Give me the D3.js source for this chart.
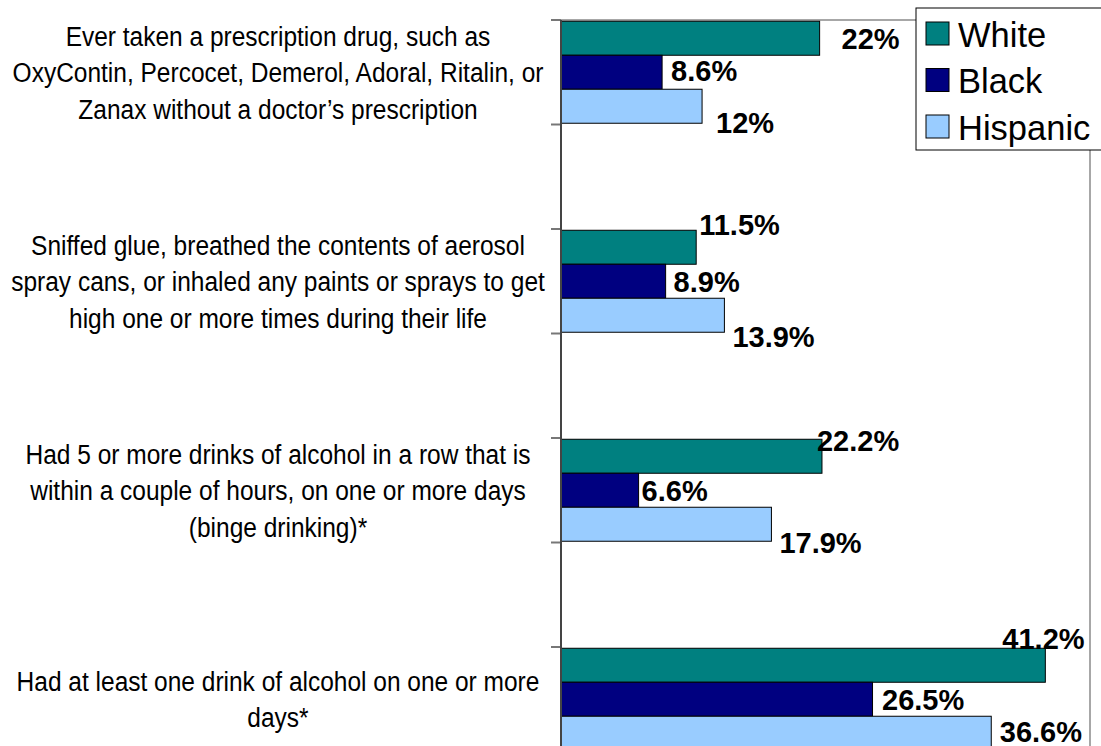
<!DOCTYPE html>
<html>
<head>
<meta charset="utf-8">
<script src="https://cdn.jsdelivr.net/npm/d3@7/dist/d3.min.js"></script>
<style>
  html, body { margin: 0; padding: 0; background: #fff; }
  svg { display: block; }
  .cat { font-family: "Liberation Sans Narrow", "Arial Narrow", "Liberation Sans", Arial, sans-serif; font-size: 28px; fill: #000; }
  .val { font-family: "Liberation Sans", Arial, sans-serif; font-weight: bold; font-size: 29px; fill: #000; }
  .leg { font-family: "Liberation Sans", Arial, sans-serif; font-size: 34.5px; fill: #000; }
</style>
</head>
<body>
<svg id="chart" width="1101" height="746"></svg>
<script>
// ---------- data ----------
const categories = [
  "Ever taken a prescription drug, such as\nOxyContin, Percocet, Demerol, Adoral, Ritalin, or\nZanax without a doctor\u2019s prescription",
  "Sniffed glue, breathed the contents of aerosol\nspray cans, or inhaled any paints or sprays to get\nhigh one or more times during their life",
  "Had 5 or more drinks of alcohol in a row that is\nwithin a couple of hours, on one or more days\n(binge drinking)*",
  "Had at least one drink of alcohol on one or more\ndays*"
];
const seriesNames = ["White", "Black", "Hispanic"];
const whiteValues = [22, 11.5, 22.2, 41.2];
const blackValues = [8.6, 8.9, 6.6, 26.5];
const hispanicValues = [12, 13.9, 17.9, 36.6];

// ---------- styling / layout config ----------
const seriesColors = ["#008080", "#000080", "#99CCFF"];
// manual label nudges (dx from bar end, dy of baseline from bar centre) as placed in the reference
const labelNudges = [
  [[22, 11], [3, -12], [-5, -5], [-43, -16]],
  [[9, 9], [8, 10.5], [3, 11], [9.5, 11]],
  [[14, 27], [8, 31.5], [8, 29], [8.5, 9]]
];
const xMax = 45;
const catCenterX = 278;
const catCondense = 0.875;   // emulate a narrow typeface

const seriesValues = [whiteValues, blackValues, hispanicValues];
const rows = [];
categories.forEach((c, ci) => {
  seriesNames.forEach((s, si) => {
    rows.push({ cat: c, ci, series: s, si, value: seriesValues[si][ci], nudge: labelNudges[si][ci] });
  });
});

const svg = d3.select("#chart");
const plot = { left: 561, right: 1090, top: 20, bottom: 751.5 };

const x = d3.scaleLinear().domain([0, xMax]).range([plot.left, plot.right]);
const y = d3.scaleBand().domain(categories).range([plot.top, plot.bottom]).paddingInner(0.5).paddingOuter(0);
const ySub = d3.scaleBand().domain(seriesNames).range([0, y.bandwidth()]).paddingInner(0).paddingOuter(0.037);

// plot area border
svg.append("rect")
  .attr("x", plot.left).attr("y", plot.top)
  .attr("width", plot.right - plot.left).attr("height", plot.bottom - plot.top)
  .attr("fill", "none").attr("stroke", "#8a8a8a").attr("stroke-width", 1.5);

// bars
svg.append("g").selectAll("rect").data(rows).join("rect")
  .attr("x", x(0))
  .attr("y", d => y(d.cat) + ySub(d.series))
  .attr("width", d => x(d.value) - x(0))
  .attr("height", ySub.bandwidth())
  .attr("fill", d => seriesColors[d.si])
  .attr("stroke", "#000").attr("stroke-width", 1);

// category axis (ticks at band edges)
const tickYs = [];
categories.forEach(c => { tickYs.push(y(c)); tickYs.push(y(c) + y.bandwidth()); });
const axisG = svg.append("g");
axisG.selectAll("line.tick").data(tickYs).join("line")
  .attr("class", "tick")
  .attr("x1", plot.left - 10).attr("x2", plot.left)
  .attr("y1", d => d).attr("y2", d => d)
  .attr("stroke", "#777").attr("stroke-width", 2);
axisG.append("line")
  .attr("x1", plot.left).attr("x2", plot.left)
  .attr("y1", plot.top).attr("y2", plot.bottom)
  .attr("stroke", "#444").attr("stroke-width", 2);

// category labels
const lineH = 36.5;
svg.append("g")
  .attr("transform", `translate(${catCenterX},0) scale(${catCondense},1)`)
  .selectAll("text").data(categories).join("text")
  .attr("class", "cat")
  .attr("text-anchor", "middle")
  .each(function (c) {
    const lines = c.split("\n");
    const cy = y(c) + y.bandwidth() / 2;
    const t = d3.select(this);
    lines.forEach((ln, i) => {
      t.append("tspan")
        .attr("x", 0)
        .attr("y", cy + (i - (lines.length - 1) / 2) * lineH + 10)
        .text(ln);
    });
  });

// value labels
svg.append("g").selectAll("text").data(rows).join("text")
  .attr("class", "val")
  .attr("x", d => x(d.value) + d.nudge[0])
  .attr("y", d => y(d.cat) + ySub(d.series) + ySub.bandwidth() / 2 + d.nudge[1])
  .text(d => d.value + "%");

// legend
const leg = svg.append("g");
leg.append("rect")
  .attr("x", 916).attr("y", 8).attr("width", 200).attr("height", 142)
  .attr("fill", "#fff").attr("stroke", "#000").attr("stroke-width", 1);
const legItems = leg.selectAll("g.item").data(seriesNames).join("g").attr("class", "item");
legItems.append("rect")
  .attr("x", 926).attr("y", (d, i) => 22 + i * 46.5)
  .attr("width", 23).attr("height", 23)
  .attr("fill", (d, i) => seriesColors[i])
  .attr("stroke", "#000").attr("stroke-width", 1);
legItems.append("text")
  .attr("class", "leg")
  .attr("x", 958).attr("y", (d, i) => 46.5 + i * 46.5)
  .text(d => d);
</script>
</body>
</html>
